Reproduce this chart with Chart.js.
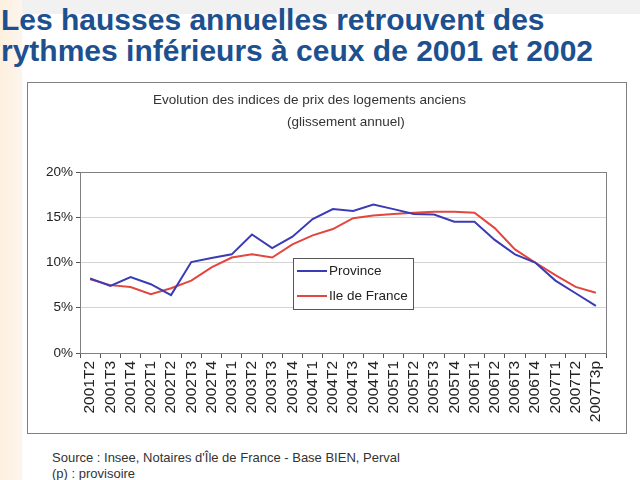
<!DOCTYPE html>
<html>
<head>
<meta charset="utf-8">
<script src="https://cdn.jsdelivr.net/npm/chart.js@4/dist/chart.umd.min.js"></script>
<style>
  body { margin: 0; width: 640px; height: 480px; position: relative; overflow: hidden;
         background: #fff; font-family: "Liberation Sans", Arial, sans-serif; }
  #strip { position: absolute; left: 0; top: 0; width: 22px; height: 480px;
           background: linear-gradient(to right, #fdf0df, #fdf5ec); }
  #band { position: absolute; left: 22px; top: 0; width: 618px; height: 14px; background: #f1f1f1; }
  h1 { position: absolute; left: 1px; top: 4px; margin: 0; font-size: 30px; line-height: 31px;
       color: #1d508f; font-weight: bold; white-space: nowrap; }
  #frame { position: absolute; left: 27px; top: 82px; width: 598px; height: 350px;
           border: 1px solid #808080; background: #fff; }
  #c { position: absolute; left: 27px; top: 82px; }
  .ct { position: absolute; font-size: 13.5px; color: #333; white-space: nowrap; }
  #src { position: absolute; left: 52px; top: 450px; font-size: 13px; color: #333; line-height: 16px; }
</style>
</head>
<body>
<div id="strip"></div>
<div id="band"></div>
<h1>Les hausses annuelles retrouvent des<br>rythmes inférieurs à ceux de 2001 et 2002</h1>
<div id="frame"></div>
<canvas id="c" width="600" height="352"></canvas>
<div class="ct" style="left:153px; top:92px;">Evolution des indices de prix des logements anciens</div>
<div class="ct" style="left:287px; top:114px;">(glissement annuel)</div>
<div id="src">Source : Insee, Notaires d'Île de France - Base BIEN, Perval<br>(p) : provisoire</div>
<script>
const labels = ['2001T2','2001T3','2001T4','2002T1','2002T2','2002T3','2002T4','2003T1','2003T2','2003T3',
  '2003T4','2004T1','2004T2','2004T3','2004T4','2005T1','2005T2','2005T3','2005T4','2006T1','2006T2',
  '2006T3','2006T4','2007T1','2007T2','2007T3p'];
const province = [8.25, 7.4, 8.4, 7.6, 6.4, 10.05, 10.5, 10.9, 13.1, 11.6, 12.85, 14.8, 15.9,
  15.7, 16.4, 15.9, 15.35, 15.3, 14.5, 14.5, 12.5, 10.9, 10.0, 8.0, 6.6, 5.2];
const ileDeFrance = [8.15, 7.5, 7.3, 6.5, 7.15, 8.0, 9.45, 10.55, 10.9, 10.55, 12.0, 13.0, 13.7,
  14.9, 15.2, 15.35, 15.5, 15.6, 15.6, 15.5, 13.8, 11.45, 10.0, 8.6, 7.3, 6.65];
const yTicks = [0, 5, 10, 15, 20];

const FONT = '"Liberation Sans", Arial, sans-serif';

// border around plot area + legend box drawn inside it
const extras = {
  id: 'extras',
  afterDraw(chart) {
    const ctx = chart.ctx, a = chart.chartArea;
    ctx.save();
    ctx.strokeStyle = '#808080';
    ctx.lineWidth = 1;
    ctx.strokeRect(Math.round(a.left) + 0.5, Math.round(a.top) + 0.5,
      Math.round(a.right - a.left), Math.round(a.bottom - a.top));
    const bx = a.left + 213, by = a.top + 86, bw = 120, bh = 51;
    ctx.fillStyle = '#fff';
    ctx.fillRect(bx, by, bw, bh);
    ctx.strokeStyle = '#555';
    ctx.strokeRect(Math.round(bx) + 0.5, Math.round(by) + 0.5, bw, bh);
    ctx.font = '13.5px ' + FONT;
    ctx.textBaseline = 'middle';
    chart.data.datasets.forEach((ds, i) => {
      const y = by + 13 + i * 25;
      ctx.strokeStyle = ds.borderColor;
      ctx.lineWidth = 2;
      ctx.beginPath();
      ctx.moveTo(bx + 4, y);
      ctx.lineTo(bx + 34, y);
      ctx.stroke();
      ctx.fillStyle = '#222';
      ctx.fillText(ds.label, bx + 36, y);
    });
    ctx.restore();
  }
};

new Chart(document.getElementById('c'), {
  type: 'line',
  data: {
    labels: labels,
    datasets: [
      { label: 'Province', data: province, borderColor: '#3b3bb5', borderWidth: 2,
        pointRadius: 0, tension: 0 },
      { label: 'Ile de France', data: ileDeFrance, borderColor: '#e2463f', borderWidth: 2,
        pointRadius: 0, tension: 0 }
    ]
  },
  options: {
    responsive: false,
    animation: false,
    layout: { padding: { left: 8, top: 90, right: 21, bottom: 4 } },
    plugins: { legend: { display: false }, title: { display: false }, tooltip: { enabled: false } },
    scales: {
      x: {
        offset: true,
        grid: { offset: true, drawOnChartArea: false, tickLength: 5, color: '#555' },
        border: { color: '#555' },
        ticks: { minRotation: 90, maxRotation: 90, autoSkip: false, padding: 3,
          color: '#222', font: { size: 15.5, family: FONT } },
        afterFit(s) { s.height = 77; }
      },
      y: {
        min: 0, max: 20,
        afterBuildTicks(s) { s.ticks = yTicks.map(v => ({ value: v })); },
        grid: { color: '#d4d4d4', tickColor: '#555', tickLength: 4 },
        border: { color: '#555' },
        ticks: { padding: 3, color: '#222', callback: v => v + '%',
          font: { size: 13.5, family: FONT } },
        afterFit(s) { s.width = 45; }
      }
    }
  },
  plugins: [extras]
});
</script>
</body>
</html>
